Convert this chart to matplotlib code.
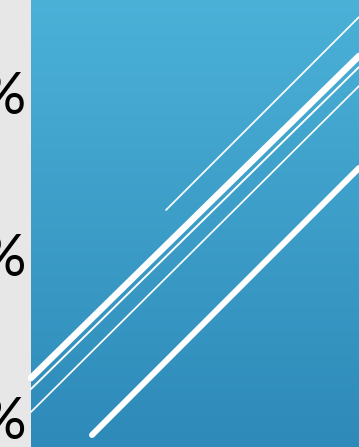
import numpy as np
import matplotlib.pyplot as plt
from matplotlib.colors import LinearSegmentedColormap

# left-hand axis labels (only the % sign survives the crop)
tick_labels = ["100%", "50%", "0%"]
tick_base = [114, 276, 439]

# decorative diagonal strokes: (x0, y0, x1, y1) in pixel coords, width in px
line_x0 = [166, 31, 31, 31, 92]
line_y0 = [210, 378, 389, 412, 435]
line_x1 = [359, 359, 359, 359, 359]
line_y1 = [17, 56, 67, 86, 168]
line_w = [1.7, 6.6, 1.9, 1.7, 6.0]

W, H = 359, 447
fig = plt.figure(figsize=(W / 100, H / 100), dpi=100)
fig.patch.set_facecolor("#E7E7E7")
ax = fig.add_axes([0, 0, 1, 1])
ax.set_xlim(0, W)
ax.set_ylim(H, 0)
ax.axis("off")

# blue panel with a top-to-bottom gradient
cmap = LinearSegmentedColormap.from_list("panel", ["#4BB1D7", "#2E8AB9"])
grad = np.linspace(0, 1, 256).reshape(-1, 1)
ax.imshow(grad, cmap=cmap, extent=(31, W, H, 0), aspect="auto", zorder=0)

for x0, y0, x1, y1, w in zip(line_x0, line_y0, line_x1, line_y1, line_w):
    ax.plot([x0, x1], [y0, y1], color="white", lw=w * 0.72,
            solid_capstyle="round", zorder=2)

for lab, y in zip(tick_labels, tick_base):
    ax.text(27, y, lab, ha="right", va="baseline", fontsize=42,
            family="Lato", color="black", zorder=3)

ax.set_xlim(0, W)
ax.set_ylim(H, 0)
fig.savefig("out.png", dpi=100, facecolor=fig.get_facecolor())
